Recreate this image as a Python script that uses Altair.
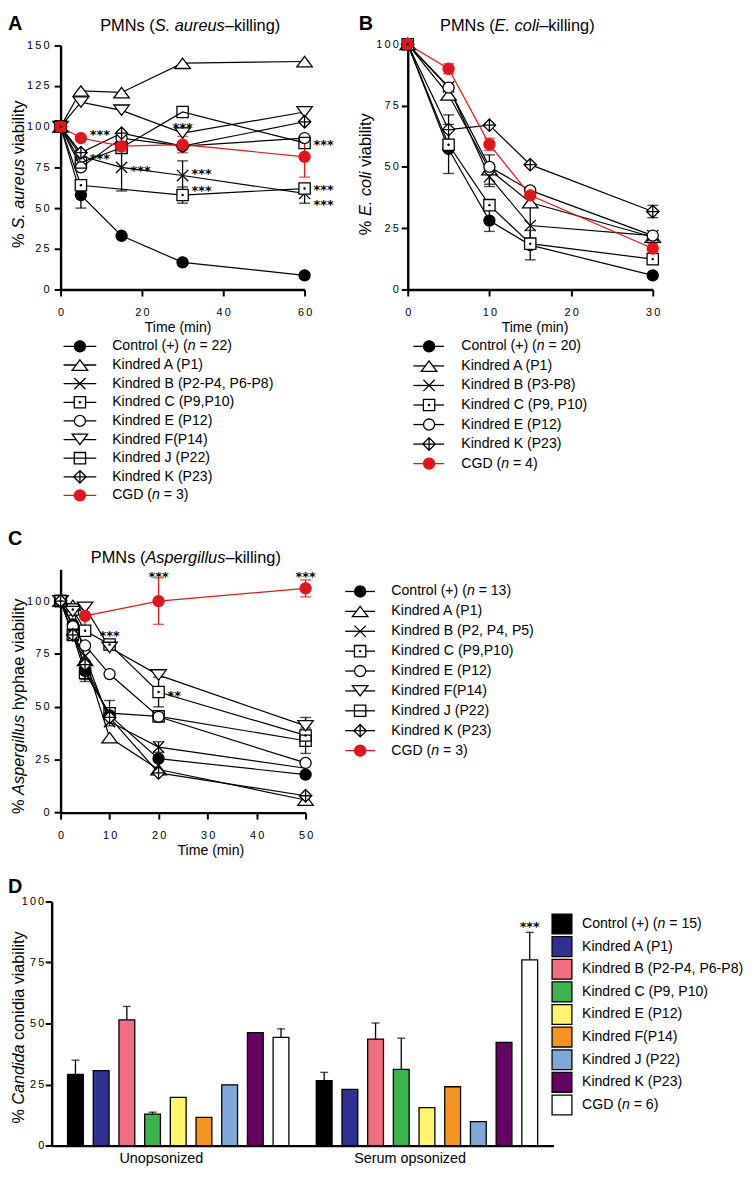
import altair as alt
import pandas as pd

FONT = "Liberation Sans"
STAR_FONT = "DejaVu Sans"
RED = "#E3151B"
KY = 0.9932
W_ALL, H_ALL = 736, 1163


def PX(r):
    return round(r - 8, 2)


def PY(r):
    return round((r - 8) * KY, 2)


KEYS = ["Control", "A", "B", "C", "E", "F", "J", "K", "CGD"]

# ---------------- Panel A : S. aureus killing ----------------
A_TIMES = [0, 5, 15, 30, 60]
A_CONTROL = [100, 58, 33, 16.7, 8.7]
A_CONTROL_ERR = [0, 8, 0, 0, 0]
A_KIN_A = [100, 122, 121, 139, 140]
A_KIN_B = [100, 82, 75, 70, 59]
A_KIN_B_ERR = [0, 0, 14.5, 9, 6]
A_KIN_C = [100, 64, None, 58, 62]
A_KIN_C_ERR = [0, 0, 0, 5, 3]
A_KIN_E = [100, 75, 93, 88, 93]
A_KIN_F = [100, 115, 110, 96, 109]
A_KIN_J = [100, 78, 87, 109, 90]
A_KIN_K = [100, 84, 96, 88, 103]
A_CGD = [100, 93, 88, 89, 81.5]
A_CGD_ERR = [0, 0, 3, 5, 12.5]
A_STARS_BESIDE_T = [5, 5, 15, 30, 30, 60, 60, 60]
A_STARS_BESIDE_V = [97, 82, 75, 73, 62.6, 90.6, 63, 54]
A_STARS_ABOVE_T = [30]
A_STARS_ABOVE_V = [101]
A_LABELS = ["Control (+) (n = 22)", "Kindred A (P1)", "Kindred B (P2-P4, P6-P8)",
            "Kindred C (P9,P10)", "Kindred E (P12)", "Kindred F(P14)",
            "Kindred J (P22)", "Kindred K (P23)", "CGD (n = 3)"]

# ---------------- Panel B : E. coli killing ----------------
B_TIMES = [0, 5, 10, 15, 30]
B_CONTROL = [100, 57.3, 28.1, 18.1, 5.8]
B_CONTROL_ERR = [0, 10, 4.4, 6, 0]
B_KIN_A = [100, 79.4, 48.9, 35.5, 21.4]
B_KIN_A_ERR = [0, 0, 6, 0, 0]
B_KIN_B = [100, 82.6, 46, 26.1, 22]
B_KIN_B_ERR = [0, 0, 4, 8, 0]
B_KIN_C = [100, 59, 34.4, 18.7, 12.4]
B_KIN_C_ERR = [0, 0, 0, 0, 2]
B_KIN_E = [100, 82.3, 50, 40.4, 22]
B_KIN_K = [100, 65.2, 67, 50.9, 31.8]
B_KIN_K_ERR = [0, 6, 0, 0, 2.5]
B_CGD = [100, 90, 59.2, 38.4, 16.7]
B_CGD_ERR = [0, 2, 2.5, 0, 2]
B_LABELS = ["Control (+) (n = 20)", "Kindred A (P1)", "Kindred B (P3-P8)",
            "Kindred C (P9, P10)", "Kindred E (P12)", "Kindred K (P23)", "CGD (n = 4)"]
B_KEYS = ["Control", "A", "B", "C", "E", "K", "CGD"]

# ---------------- Panel C : Aspergillus killing ----------------
C_TIMES = [0, 2.5, 5, 10, 20, 50]
C_CONTROL = [100, 89, 67, 46, 25.5, 18]
C_CONTROL_ERR = [0, 0, 4, 0, 0, 0]
C_KIN_A = [100, 98, 72, 35.5, 20.4, 6]
C_KIN_B = [100, 84, 74, 43, 31, 21]
C_KIN_B_ERR = [0, 0, 0, 0, 2.5, 0]
C_KIN_C = [100, 96, 86, 79.5, 57, 36.5]
C_KIN_C_ERR = [0, 0, 0, 0, 7, 0]
C_KIN_E = [100, 88, 79, 65.5, 45.3, 23.5]
C_KIN_F = [100, 95, 97, 78, 65, 41]
C_KIN_F_ERR = [0, 0, 0, 0, 0, 4]
C_KIN_J = [100, 84, 66, 47, 45.5, 34]
C_KIN_J_ERR = [0, 0, 4, 6, 0, 6]
C_KIN_K = [100, 84, 70, 45, 18.8, 8]
C_CGD = [None, None, 93, None, 100, 106]
C_CGD_ERR = [0, 0, 6, 0, 11, 4]
C_STARS_ABOVE_T = [10, 20, 50]
C_STARS_ABOVE_V = [85, 113, 113]
C_STARS_BESIDE_T = [20]
C_STARS_BESIDE_V = [56.6]
C_LABELS = ["Control (+) (n = 13)", "Kindred A (P1)", "Kindred B (P2, P4, P5)",
            "Kindred C (P9,P10)", "Kindred E (P12)", "Kindred F(P14)",
            "Kindred J (P22)", "Kindred K (P23)", "CGD (n = 3)"]

# ---------------- Panel D : Candida killing ----------------
D_GROUPS = ["Unopsonized", "Serum opsonized"]
D_UNOPS = [29.2, 30.7, 51.5, 12.9, 19.8, 11.6, 24.9, 46.3, 44.3]
D_UNOPS_ERR = [5.8, 0, 5.5, 0.8, 0, 0, 0, 0, 3.5]
D_SERUM = [26.6, 23.0, 43.6, 31.2, 15.6, 24.1, 9.8, 42.3, 76.0]
D_SERUM_ERR = [3.4, 0, 6.6, 12.8, 0, 0, 0, 0, 11.3]
D_COLORS = ["#000000", "#2E3192", "#F26D7D", "#39B54A", "#FFF46A",
            "#F7941D", "#7EA7DA", "#660066", "#FFFFFF"]
D_LABELS = ["Control (+) (n = 15)", "Kindred A (P1)", "Kindred B (P2-P4, P6-P8)",
            "Kindred C (P9, P10)", "Kindred E (P12)", "Kindred F(P14)",
            "Kindred J (P22)", "Kindred K (P23)", "CGD (n = 6)"]

# ---------------- text metrics (Arial / Liberation Sans) ----------------
AW = {' ': 278, '%': 889, '(': 333, ')': 333, '*': 389, '+': 584, ',': 278, '-': 333,
      '.': 278, '=': 584, '–': 556,
      'A': 667, 'B': 667, 'C': 722, 'D': 722, 'E': 667, 'F': 611, 'G': 778, 'H': 722,
      'I': 278, 'J': 500, 'K': 667, 'L': 556, 'M': 833, 'N': 722, 'O': 778, 'P': 667,
      'Q': 778, 'R': 722, 'S': 667, 'T': 611, 'U': 722, 'V': 667, 'W': 944, 'X': 667,
      'Y': 667, 'Z': 611,
      'a': 556, 'b': 556, 'c': 500, 'd': 556, 'e': 556, 'f': 278, 'g': 556, 'h': 556,
      'i': 222, 'j': 222, 'k': 500, 'l': 222, 'm': 833, 'n': 556, 'o': 556, 'p': 556,
      'q': 556, 'r': 333, 's': 500, 't': 278, 'u': 556, 'v': 500, 'w': 722, 'x': 500,
      'y': 500, 'z': 500}


def tw(s, size):
    return sum(AW.get(c, 556) for c in s) * size / 1000.0


ONE = pd.DataFrame({"z": [0]})


def rich(segs, cx, cy, size, rotate=False):
    total = sum(tw(t, size) for t, _ in segs)
    pos = -total / 2
    out = []
    for t, it in segs:
        lead = len(t) - len(t.lstrip(" "))
        start = pos + tw(" " * lead, size)
        kw = dict(text=t.strip(), font=FONT, fontSize=size, color="black", align="left",
                  fontStyle="italic" if it else "normal")
        if rotate:
            m = alt.Chart(ONE).mark_text(angle=270, baseline="middle", **kw).encode(
                x=alt.value(cx), y=alt.value(round(cy - start, 2)))
        else:
            m = alt.Chart(ONE).mark_text(baseline="alphabetic", **kw).encode(
                x=alt.value(round(cx + start, 2)), y=alt.value(cy))
        out.append(m)
        pos += tw(t, size)
    return out


def letter(ch, x, y):
    return alt.Chart(ONE).mark_text(text=ch, font=FONT, fontSize=20, fontWeight="bold",
                                    align="left", baseline="alphabetic", color="black").encode(
        x=alt.value(max(PX(x), 0)), y=alt.value(max(PY(y), 17)))


def plain(txt, cx, cy, size):
    return alt.Chart(ONE).mark_text(text=txt, font=FONT, fontSize=size, align="center",
                                    baseline="alphabetic", color="black").encode(
        x=alt.value(PX(cx)), y=alt.value(PY(cy)))


# ---------------- symbols & shared scales ----------------
CIRC = "M0.93,0A0.93,0.93,0,1,1,-0.93,0A0.93,0.93,0,1,1,0.93,0Z"
SQ = "M-0.95,-0.95H0.95V0.95H-0.95Z"
TRI_UP = "M0,-0.85L1.3,0.9L-1.3,0.9Z"
TRI_DN = "M0,0.85L1.3,-0.9L-1.3,-0.9Z"
XSH = "M-0.95,-0.95L0.95,0.95M-0.95,0.95L0.95,-0.95"
DIA_PLUS = "M0,-1.05L1.05,0L0,1.05L-1.05,0ZM0,-1.05V1.05M-1.05,0H1.05"
SHAPE_RANGE = [CIRC, TRI_UP, XSH, SQ, CIRC, TRI_DN, SQ, DIA_PLUS, CIRC]
FILL_RANGE = ["black", "white", "white", "white", "white", "white", "transparent", "white", RED]
STROKE_RANGE = ["black"] * 8 + [RED]

SHAPE = alt.Shape("key:N", scale=alt.Scale(domain=KEYS, range=SHAPE_RANGE), legend=None)
FILL = alt.Fill("key:N", scale=alt.Scale(domain=KEYS, range=FILL_RANGE), legend=None)
STROKE = alt.Stroke("key:N", scale=alt.Scale(domain=KEYS, range=STROKE_RANGE), legend=None)
BARCOLOR = alt.Color("key:N", scale=alt.Scale(domain=KEYS, range=D_COLORS), legend=None)
CAPFILL = alt.condition("datum.key == 'CGD'", alt.value(RED), alt.value("black"))
SYM = 144
SPACED = "join(split(datum.label, ''), '\u2009')"
STAR_KW = dict(font=STAR_FONT, fontSize=13, fontWeight="bold", color="black",
               baseline="alphabetic", dy=7.5)


def qaxis(orient, values, offset, pad, tick=6.5):
    return alt.Axis(orient=orient, values=values, offset=offset, title=None, grid=False,
                    domainColor="black", domainWidth=2.4, tickColor="black", tickWidth=2,
                    tickSize=tick, labelFont=FONT, labelFontSize=11, labelColor="black",
                    labelPadding=pad, labelFlush=False, labelOverlap=False, labelExpr=SPACED)


def series_df(times, table):
    rows = []
    for key, vals, errs in table:
        if errs is None:
            errs = [0] * len(times)
        for t, v, e in zip(times, vals, errs):
            if v is None:
                continue
            rows.append({"key": key, "t": t, "v": v, "err": e, "lo": v - e, "hi": v + e})
    return pd.DataFrame(rows)


def line_panel(df, xsc, ysc, xax, yax, beside, above):
    X = alt.X("t:Q", scale=xsc, axis=xax)
    Y = alt.Y("v:Q", scale=ysc, axis=yax)
    YLO = alt.Y("lo:Q", scale=ysc, axis=yax)
    YHI = alt.Y("hi:Q", scale=ysc, axis=yax)
    base = alt.Chart(df)
    eb = base.transform_filter("datum.err > 0")
    layers = [
        base.mark_line(strokeWidth=1.2).encode(x=X, y=Y, stroke=STROKE),
        eb.mark_rule(strokeWidth=1.3).encode(x=X, y=YLO, y2="hi:Q", stroke=STROKE),
        eb.mark_tick(orient="horizontal", size=11, thickness=1.4).encode(x=X, y=YLO, fill=CAPFILL),
        eb.mark_tick(orient="horizontal", size=11, thickness=1.4).encode(x=X, y=YHI, fill=CAPFILL),
        base.mark_point(size=SYM, strokeWidth=1.3, opacity=1).encode(
            x=X, y=Y, shape=SHAPE, fill=FILL, stroke=STROKE),
        base.transform_filter("datum.key == 'C'").mark_point(
            filled=True, size=6, color="black", opacity=1, shape="circle").encode(x=X, y=Y),
    ]
    if beside is not None:
        layers.append(alt.Chart(beside).mark_text(align="left", dx=9, **STAR_KW).encode(
            x=X, y=Y, text="txt:N"))
    if above is not None:
        layers.append(alt.Chart(above).mark_text(align="center", **STAR_KW).encode(
            x=X, y=Y, text="txt:N"))
    return alt.layer(*layers)


def stars_df(ts, vs, txt="***"):
    return pd.DataFrame({"t": ts, "v": vs, "txt": [txt] * len(ts)})


def legend_segments(labels, x0, size):
    rows = []
    for i, lab in enumerate(labels):
        if "(n =" in lab:
            j = lab.index("(n =") + 1
            pre, post = lab[:j], lab[j + 2:]
            rows.append(dict(row=i, txt=pre, xo=x0, it=0))
            rows.append(dict(row=i, txt="n", xo=round(x0 + tw(pre, size), 2), it=1))
            rows.append(dict(row=i, txt=post, xo=round(x0 + tw(pre + "n ", size), 2), it=0))
        else:
            rows.append(dict(row=i, txt=lab, xo=x0, it=0))
    return pd.DataFrame(rows)


def legend_text(labels, Y, xt, size):
    seg = legend_segments(labels, PX(xt), size)
    tb = alt.Chart(seg)
    XT = alt.X("xo:Q", scale=None, axis=None)
    kw = dict(align="left", baseline="middle", font=FONT, fontSize=size, color="black")
    return [tb.transform_filter("datum.it == 0").mark_text(**kw).encode(x=XT, y=Y, text="txt:N"),
            tb.transform_filter("datum.it == 1").mark_text(fontStyle="italic", **kw).encode(
                x=XT, y=Y, text="txt:N")]


def line_legend(labels, keys, xl0, xl1, xs, xt, y0, y1):
    n = len(labels)
    df = pd.DataFrame({"row": list(range(n)), "key": keys})
    ysc = alt.Scale(type="point", domain=list(range(n)), range=[PY(y0), PY(y1)], padding=0)
    Y = alt.Y("row:O", scale=ysc, axis=None)
    base = alt.Chart(df)
    layers = [
        base.mark_rule(strokeWidth=1.3).encode(x=alt.value(PX(xl0)), x2=alt.value(PX(xl1)),
                                                 y=Y, stroke=STROKE),
        base.mark_point(size=SYM, strokeWidth=1.3, opacity=1).encode(
            x=alt.value(PX(xs)), y=Y, shape=SHAPE, fill=FILL, stroke=STROKE),
        base.transform_filter("datum.key == 'C'").mark_point(
            filled=True, size=6, color="black", opacity=1, shape="circle").encode(
            x=alt.value(PX(xs)), y=Y),
    ]
    layers += legend_text(labels, Y, xt, 14.2)
    return alt.layer(*layers)


# ---------------- build panels ----------------
dfA = series_df(A_TIMES, [
    ("Control", A_CONTROL, A_CONTROL_ERR), ("A", A_KIN_A, None), ("B", A_KIN_B, A_KIN_B_ERR),
    ("C", A_KIN_C, A_KIN_C_ERR), ("E", A_KIN_E, None), ("F", A_KIN_F, None),
    ("J", A_KIN_J, None), ("K", A_KIN_K, None), ("CGD", A_CGD, A_CGD_ERR)])
panelA = line_panel(
    dfA,
    alt.Scale(domain=[0, 60], range=[PX(61), PX(307)], nice=False, zero=False),
    alt.Scale(domain=[0, 150], range=[PY(289), PY(41)], nice=False, zero=False),
    qaxis("bottom", [0, 20, 40, 60], PY(289) - H_ALL, 11),
    qaxis("left", [0, 25, 50, 75, 100, 125, 150], -PX(61), 5),
    stars_df(A_STARS_BESIDE_T, A_STARS_BESIDE_V), stars_df(A_STARS_ABOVE_T, A_STARS_ABOVE_V))

dfB = series_df(B_TIMES, [
    ("Control", B_CONTROL, B_CONTROL_ERR), ("A", B_KIN_A, B_KIN_A_ERR), ("B", B_KIN_B, B_KIN_B_ERR),
    ("C", B_KIN_C, B_KIN_C_ERR), ("E", B_KIN_E, None), ("K", B_KIN_K, B_KIN_K_ERR),
    ("CGD", B_CGD, B_CGD_ERR)])
panelB = line_panel(
    dfB,
    alt.Scale(domain=[0, 30], range=[PX(411), PX(658)], nice=False, zero=False),
    alt.Scale(domain=[0, 100], range=[PY(289), PY(40)], nice=False, zero=False),
    qaxis("bottom", [0, 10, 20, 30], PY(289) - H_ALL, 11),
    qaxis("left", [0, 25, 50, 75, 100], -PX(411), 3),
    None, None)

dfC = series_df(C_TIMES, [
    ("Control", C_CONTROL, C_CONTROL_ERR), ("A", C_KIN_A, None), ("B", C_KIN_B, C_KIN_B_ERR),
    ("C", C_KIN_C, C_KIN_C_ERR), ("E", C_KIN_E, None), ("F", C_KIN_F, C_KIN_F_ERR),
    ("J", C_KIN_J, C_KIN_J_ERR), ("K", C_KIN_K, None), ("CGD", C_CGD, C_CGD_ERR)])
panelC = line_panel(
    dfC,
    alt.Scale(domain=[0, 50], range=[PX(61), PX(308)], nice=False, zero=False),
    alt.Scale(domain=[0, 115], range=[PY(820), PY(573)], nice=False, zero=False),
    qaxis("bottom", [0, 10, 20, 30, 40, 50], PY(820) - H_ALL, 11),
    qaxis("left", [0, 25, 50, 75, 100], -PX(61), 5),
    stars_df(C_STARS_BESIDE_T, C_STARS_BESIDE_V, "**"), stars_df(C_STARS_ABOVE_T, C_STARS_ABOVE_V))

# Panel D bars
rowsD = []
for g, vals, errs in [(D_GROUPS[0], D_UNOPS, D_UNOPS_ERR), (D_GROUPS[1], D_SERUM, D_SERUM_ERR)]:
    for k, v, e in zip(KEYS, vals, errs):
        rowsD.append({"grp": g, "key": k, "v": v, "err": e, "hi": v + e})
dfD = pd.DataFrame(rowsD)
axDx = alt.Axis(orient="bottom", offset=PY(1158) - H_ALL, title=None, grid=False, ticks=False,
                domainColor="black", domainWidth=2.4, labelFont=FONT, labelFontSize=14.5,
                labelColor="black", labelPadding=6, labelOffset=-17, labelAngle=0)
axDy = qaxis("left", [0, 25, 50, 75, 100], -PX(52), 1.5)
ysD = alt.Scale(domain=[0, 100], range=[PY(1158), PY(910)], nice=False, zero=True)
XD = alt.X("grp:N", sort=D_GROUPS,
           scale=alt.Scale(domain=D_GROUPS, range=[PX(52), PX(558)], paddingInner=0.11,
                           paddingOuter=0.064), axis=axDx)
XO = alt.XOffset("key:N", sort=KEYS, scale=alt.Scale(domain=KEYS, paddingInner=0.385, paddingOuter=0))
YD = alt.Y("v:Q", scale=ysD, axis=axDy)
baseD = alt.Chart(dfD)
ebD = baseD.transform_filter("datum.err > 0")
starD = pd.DataFrame({"grp": [D_GROUPS[1]], "key": ["CGD"], "v": [91.0], "txt": ["***"]})
panelD = alt.layer(
    ebD.mark_rule(strokeWidth=1.3, color="black").encode(x=XD, xOffset=XO, y=YD, y2="hi:Q"),
    ebD.mark_tick(orient="horizontal", size=8, thickness=1.4, color="black").encode(
        x=XD, xOffset=XO, y=alt.Y("hi:Q", scale=ysD, axis=axDy)),
    baseD.mark_bar(stroke="black", strokeWidth=1.3, opacity=1).encode(
        x=XD, xOffset=XO, y=YD, color=BARCOLOR),
    alt.Chart(starD).mark_text(align="center", **STAR_KW).encode(
        x=XD, xOffset=XO, y=YD, text="txt:N"),
)

# ---------------- legends ----------------
legA = line_legend(A_LABELS, KEYS, 64, 97, 80.5, 113, 346.7, 498)
legB = line_legend(B_LABELS, B_KEYS, 416.7, 447.7, 432.5, 465, 346.7, 465.7)
legC = line_legend(C_LABELS, KEYS, 348, 378, 363, 394.5, 595.5, 757)

dfLD = pd.DataFrame({"row": list(range(9)), "key": KEYS})
YLD = alt.Y("row:O", scale=alt.Scale(type="point", domain=list(range(9)),
                                      range=[PY(933), PY(1116.7)], padding=0), axis=None)
legD = alt.layer(
    alt.Chart(dfLD).mark_square(size=400, stroke="black", strokeWidth=1.3, opacity=1, filled=True).encode(
        x=alt.value(PX(566.5)), y=YLD, color=BARCOLOR),
    *legend_text(D_LABELS, YLD, 586.7, 14.2))

# ---------------- titles / letters ----------------
YT_MIN = 11
texts = [letter("A", 2, 17), letter("B", 361.5, 17), letter("C", 3, 548), letter("D", 2, 902)]
texts += rich([("PMNs (", 0), ("S. aureus", 1), ("–killing)", 0)], PX(191.7), PY(26.7), 16.5)
texts += rich([("PMNs (", 0), ("E. coli", 1), ("–killing)", 0)], PX(521.5), PY(26.7), 16.5)
texts += rich([("PMNs (", 0), ("Aspergillus", 1), ("–killing)", 0)], PX(187.3), PY(566.7), 16.5)
texts += rich([("% ", 0), ("S. aureus", 1), (" viability", 0)], max(PX(10.5), YT_MIN), PY(172), 16.5, rotate=True)
texts += rich([("% ", 0), ("E. coli", 1), (" viability", 0)], PX(369), PY(172), 16.5, rotate=True)
texts += rich([("% ", 0), ("Aspergillus", 1), (" hyphae viability", 0)], max(PX(10), YT_MIN), PY(712), 16.5, rotate=True)
texts += rich([("% ", 0), ("Candida", 1), (" conidia viability", 0)], max(PX(9), YT_MIN), PY(1038), 16.3, rotate=True)
texts += [plain("Time (min)", 179.5, 331.7, 14.2),
          plain("Time (min)", 539.3, 331.7, 14.2),
          plain("Time (min)", 212.5, 863, 14.2)]

chart = alt.layer(panelA, panelB, panelC, panelD, legA, legB, legC, legD, *texts).resolve_scale(
    x="independent", y="independent"
).properties(width=W_ALL, height=H_ALL, padding=0).configure_view(stroke=None)

chart.save("out.html", embed_options={"renderer": "svg", "actions": False})
